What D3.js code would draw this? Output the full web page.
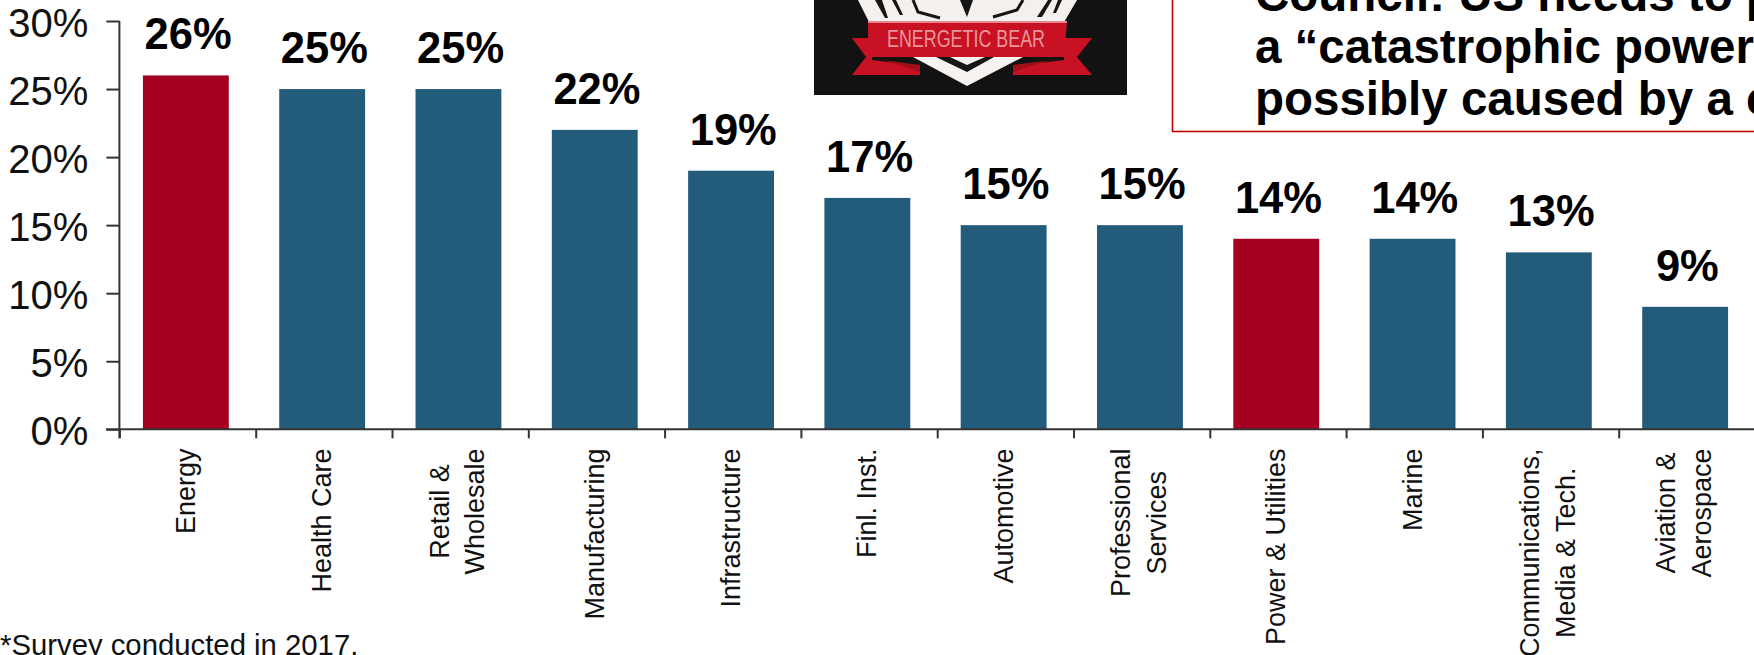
<!DOCTYPE html>
<html><head><meta charset="utf-8">
<style>
html,body{margin:0;padding:0;background:#fff;overflow:hidden}
svg{display:block}
text{font-family:"Liberation Sans",Arial,sans-serif}
</style>
<script src="https://cdn.jsdelivr.net/npm/d3@7/dist/d3.min.js"></script>
</head><body>
<svg id="c" width="1754" height="655"></svg>
<script>
const categories = [["Energy"],["Health Care"],["Retail &","Wholesale"],["Manufacturing"],["Infrastructure"],["Finl. Inst."],["Automotive"],["Professional","Services"],["Power & Utilities"],["Marine"],["Communications,","Media & Tech."],["Aviation &","Aerospace"]];
const values = [26,25,25,22,19,17,15,15,14,14,13,9];
const highlighted = ["Energy","Power & Utilities"];
const yTicks = [0,5,10,15,20,25,30];
const footnote = "*Survey conducted in 2017.";
const calloutLines = ["Council: US needs to p","a “catastrophic power","possibly caused by a c"];
const logoText = "ENERGETIC BEAR";

const svg = d3.select("#c");
const axisY0 = 429.3, axisY30 = 21, axisX0 = 119.4, step = 136.3, barShift = -1.7;
const names = categories.map(d=>d.join(" "));
const x = d3.scaleBand().domain(names).range([axisX0+barShift, axisX0+barShift+step*names.length]).paddingInner(0.37).paddingOuter(0.185);
const y = d3.scaleLinear().domain([0,30]).range([axisY0,axisY30]);

// bars
svg.append("g").selectAll("rect").data(values).join("rect")
  .attr("x",(d,i)=>x(names[i])).attr("width",x.bandwidth())
  .attr("y",d=>y(d)).attr("height",d=>y(0)-y(d))
  .attr("fill",(d,i)=>highlighted.includes(names[i])?"#A50021":"#235B7A");

// value labels
svg.append("g").selectAll("text").data(values).join("text")
  .attr("x",(d,i)=>x(names[i])+x.bandwidth()/2+2.2)
  .attr("y",d=>y(d)-26)
  .attr("text-anchor","middle").attr("font-weight","bold").attr("font-size",43.5).attr("fill","#000")
  .text(d=>d+"%");

// y axis
const yAxis = d3.axisLeft(y).tickValues(yTicks).tickFormat(d=>d+"%").tickSize(13).tickPadding(18);
const gy = svg.append("g").attr("transform",`translate(${axisX0},0)`).call(yAxis);
gy.selectAll("path,line").attr("stroke","#333").attr("stroke-width",2);
gy.select("path").attr("d",`M0,${axisY30}V${axisY0+9}`);
gy.selectAll("text").attr("font-size",40).attr("fill","#111").attr("font-family","'Liberation Sans'").attr("dy","0.38em");

// x axis: ticks between categories
const boundaries = d3.range(0,names.length+1).map(i=>axisX0+i*step);
const bx = d3.scaleLinear().domain([axisX0,axisX0+step*names.length]).range([axisX0,axisX0+step*names.length]);
const gx = svg.append("g").attr("transform",`translate(0,${axisY0})`)
  .call(d3.axisBottom(bx).tickValues(boundaries).tickSize(9).tickFormat(""));
gx.selectAll("path,line").attr("stroke","#333").attr("stroke-width",2);
gx.select("path").attr("d",`M106,0H1754`);

// category labels
const lab = svg.append("g").selectAll("g").data(categories).join("g")
  .attr("transform",(d,i)=>`translate(${x(names[i])+x.bandwidth()/2},448.5) rotate(-90)`);
lab.each(function(lines){
  const g = d3.select(this);
  const fs = 27, lh = 35.5;
  const longest = d3.max(lines,l=>{
    const t = g.append("text").attr("font-size",fs).text(l);
    const w = t.node().getComputedTextLength(); t.remove(); return w;
  });
  lines.forEach((l,k)=>{
    g.append("text").attr("font-size",fs).attr("fill","#111").attr("text-anchor","middle")
     .attr("x",-longest/2)
     .attr("y",(k-(lines.length-1)/2)*lh+(lines.length>1?8:9))
     .text(l);
  });
});

// footnote
svg.append("text").attr("x",0).attr("y",655).attr("font-size",29.3).attr("fill","#111").text(footnote);

// callout box
const box = svg.append("g");
box.append("rect").attr("x",1172.5).attr("y",-10).attr("width",700).attr("height",141.5)
  .attr("fill","#fff").attr("stroke","#C00000").attr("stroke-width",1.6);
box.selectAll("text").data(calloutLines).join("text")
  .attr("x",1255).attr("y",(d,i)=>11+i*52).attr("font-size",47.5).attr("font-weight","bold").attr("fill","#000")
  .text(d=>d);

// logo image stand-in
const logo = svg.append("g").attr("transform","translate(814,0)");
logo.append("rect").attr("width",313).attr("height",95).attr("fill","#121212");
const lp = (pts,fill)=>logo.append("polygon").attr("points",pts).attr("fill",fill);
// white fan at the top
lp("44,0 263,0 249,24 56,24","#f4f0ee");
["61,0 68,0 74,18 71,18","78,0 82,0 89,15 86,15","234,0 238,0 228,17 223,17","244,0 248,0 242,13 239,13","146,0 159,0 153,17"].forEach(p=>lp(p,"#151515"));
logo.append("path").attr("d","M99,0L104,12L126,18").attr("fill","none").attr("stroke","#151515").attr("stroke-width",3);
logo.append("path").attr("d","M209,0L203,10L179,17").attr("fill","none").attr("stroke","#151515").attr("stroke-width",3);
// ribbon tails
lp("38,38 58,38 58,60 106,66 106,75 38,75 52,57","#c81123");
lp("278,38 250,38 250,60 199,66 199,75 278,75 263,57","#c81123");
lp("54,58 106,65 106,72 70,60","#a00f1a");
lp("254,58 199,65 199,72 236,60","#a00f1a");
// chevron
lp("99,57 209,57 153,86","#f5f2f0");
lp("122,57 180,57 153,72","#151515");
lp("136,57 171,57 153,65","#f5f2f0");
// main ribbon
lp("54,22 253,22 250,57 54,57","#c81123");
lp("54,21 253,21 253,23 54,23","#e7878f");
logo.append("text").attr("x",152).attr("y",47).attr("text-anchor","middle").attr("font-size",23)
  .attr("fill","#ea959b").attr("font-family","'Noto Sans'").attr("textLength",158).attr("lengthAdjust","spacingAndGlyphs").text(logoText);
</script>
</body></html>
